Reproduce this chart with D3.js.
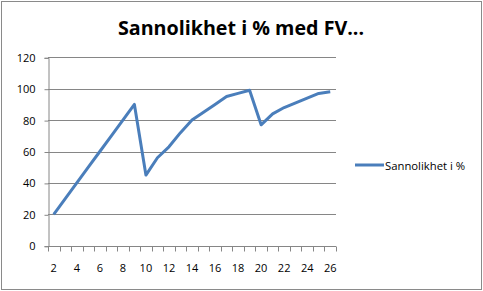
<!DOCTYPE html>
<html><head><meta charset="utf-8">
<script src="https://cdn.jsdelivr.net/npm/d3@7"></script>
<style>body{margin:0;background:#fff}svg{display:block}</style>
</head><body>
<script>
const categories = ["2","3","4","5","6","7","8","9","10","11","12","13","14","15","16","17","18","19","20","21","22","23","24","25","26"];
const values = [20,30,40,50,60,70,80,90,45,56,63,72,80,85,90,95,97,99,77,84,88,91,94,97,98];
const yTicks = [0,20,40,60,80,100,120];
const xTickLabels = ["2","4","6","8","10","12","14","16","18","20","22","24","26"];
const seriesName = "Sannolikhet i %";
const title = "Sannolikhet i % med FV...";

(function(){
const W = 483, H = 291;
const svg = d3.select("body").append("svg").attr("width", W).attr("height", H);
svg.append("rect").attr("x",1.5).attr("y",1.5).attr("width",W-3).attr("height",H-3)
  .attr("fill","#fff").attr("stroke","#8a8a8a").attr("stroke-width",1);

const pLeft = 48, pRight = 336, pTop = 57.3, pBottom = 245.7;
const x = d3.scaleBand().domain(categories).range([pLeft, pRight]);
const y = d3.scaleLinear().domain([0,120]).range([pBottom, pTop]);
const font = "'Open Sans', 'Liberation Sans', sans-serif";

svg.append("g").selectAll("line").data(yTicks.filter(d=>d>0)).join("line")
  .attr("x1", pLeft).attr("x2", pRight)
  .attr("y1", d=>Math.round(y(d))+0.5).attr("y2", d=>Math.round(y(d))+0.5)
  .attr("stroke","#868686").attr("stroke-width",1);

const yAxis = svg.append("g").attr("transform",`translate(${pLeft+0.5},0.5)`)
  .call(d3.axisLeft(y).tickValues(yTicks).tickSize(4).tickPadding(9).tickFormat(d3.format("d")));
yAxis.selectAll("line,path").attr("stroke","#868686");
yAxis.selectAll("text").attr("font-family",font).attr("font-size",11).attr("fill","#000");

const gx = svg.append("g").attr("transform",`translate(0,${Math.round(pBottom)+0.5})`);
gx.append("line").attr("x1",pLeft).attr("x2",pRight).attr("stroke","#868686");
const bounds = categories.map(c=>x(c)).concat([pRight]);
gx.selectAll("line.tk").data(bounds).join("line").attr("class","tk")
  .attr("x1",d=>Math.round(d)+0.5).attr("x2",d=>Math.round(d)+0.5).attr("y1",0).attr("y2",5)
  .attr("stroke","#868686");
gx.selectAll("text").data(xTickLabels).join("text")
  .attr("x",d=>x(d)+x.bandwidth()/2).attr("y",25)
  .attr("text-anchor","middle").attr("font-family",font).attr("font-size",11).attr("fill","#000")
  .text(d=>d);

const line = d3.line().x((d,i)=>x(categories[i])+x.bandwidth()/2).y(d=>y(d));
svg.append("path").datum(values).attr("d",line).attr("fill","none")
  .attr("stroke","#4a7ebb").attr("stroke-width",3).attr("stroke-linejoin","round");

svg.append("text").attr("x",241).attr("y",34.5).attr("text-anchor","middle")
  .attr("font-family",font).attr("font-weight","bold")
  .attr("font-size",19.7).attr("fill","#000").text(title);

svg.append("line").attr("x1",355).attr("x2",384).attr("y1",165).attr("y2",165)
  .attr("stroke","#4a7ebb").attr("stroke-width",3);
svg.append("text").attr("x",385).attr("y",169.5).attr("font-family",font).attr("font-size",11.3)
  .attr("fill","#000").text(seriesName);
})();
</script>
</body></html>
